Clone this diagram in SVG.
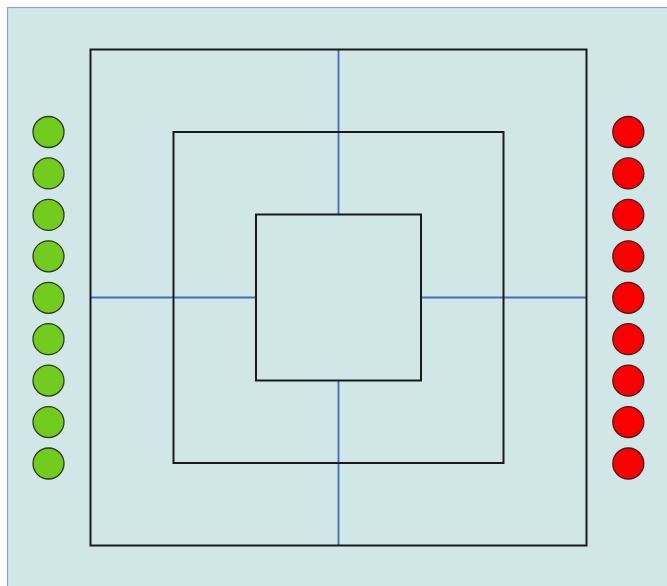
<svg xmlns="http://www.w3.org/2000/svg" width="667" height="586" viewBox="0 0 667 586">
<style>
.bg{fill:#d1e6e6;stroke:#86a4c4;stroke-width:1.2}
.sq{fill:none;stroke:#1a1a1a;stroke-width:2}
.ln{stroke:#4471b4;stroke-width:1.9;fill:none}
.g{fill:#72cc1e;stroke:#2c3a20;stroke-width:1.3}
.r{fill:#fb0000;stroke:#4a1a1a;stroke-width:1.3}
</style>
<rect class="bg" x="7.5" y="7.5" width="680" height="600"/>
<g id="connectors">
<line class="ln" x1="338.5" y1="49.5" x2="338.5" y2="214.5"/>
<line class="ln" x1="338.5" y1="380.5" x2="338.5" y2="545.5"/>
<line class="ln" x1="90.5" y1="297.5" x2="256" y2="297.5"/>
<line class="ln" x1="421" y1="297.5" x2="586.5" y2="297.5"/>
</g>
<g id="outer-square"><rect class="sq" x="90.5" y="49.5" width="496" height="496"/></g>
<g id="middle-square"><rect class="sq" x="173.5" y="132" width="330" height="331"/></g>
<g id="inner-square"><rect class="sq" x="256" y="214.5" width="165" height="166"/></g>
<g id="green-1"><circle class="g" cx="48.5" cy="132" r="15.5"/></g>
<g id="green-2"><circle class="g" cx="48.5" cy="173.4" r="15.5"/></g>
<g id="green-3"><circle class="g" cx="48.5" cy="214.9" r="15.5"/></g>
<g id="green-4"><circle class="g" cx="48.5" cy="256.3" r="15.5"/></g>
<g id="green-5"><circle class="g" cx="48.5" cy="297.8" r="15.5"/></g>
<g id="green-6"><circle class="g" cx="48.5" cy="339.2" r="15.5"/></g>
<g id="green-7"><circle class="g" cx="48.5" cy="380.6" r="15.5"/></g>
<g id="green-8"><circle class="g" cx="48.5" cy="422.1" r="15.5"/></g>
<g id="green-9"><circle class="g" cx="48.5" cy="463.5" r="15.5"/></g>
<g id="red-1"><circle class="r" cx="628.3" cy="132" r="15.5"/></g>
<g id="red-2"><circle class="r" cx="628.3" cy="173.4" r="15.5"/></g>
<g id="red-3"><circle class="r" cx="628.3" cy="214.9" r="15.5"/></g>
<g id="red-4"><circle class="r" cx="628.3" cy="256.3" r="15.5"/></g>
<g id="red-5"><circle class="r" cx="628.3" cy="297.8" r="15.5"/></g>
<g id="red-6"><circle class="r" cx="628.3" cy="339.2" r="15.5"/></g>
<g id="red-7"><circle class="r" cx="628.3" cy="380.6" r="15.5"/></g>
<g id="red-8"><circle class="r" cx="628.3" cy="422.1" r="15.5"/></g>
<g id="red-9"><circle class="r" cx="628.3" cy="463.5" r="15.5"/></g>
</svg>
